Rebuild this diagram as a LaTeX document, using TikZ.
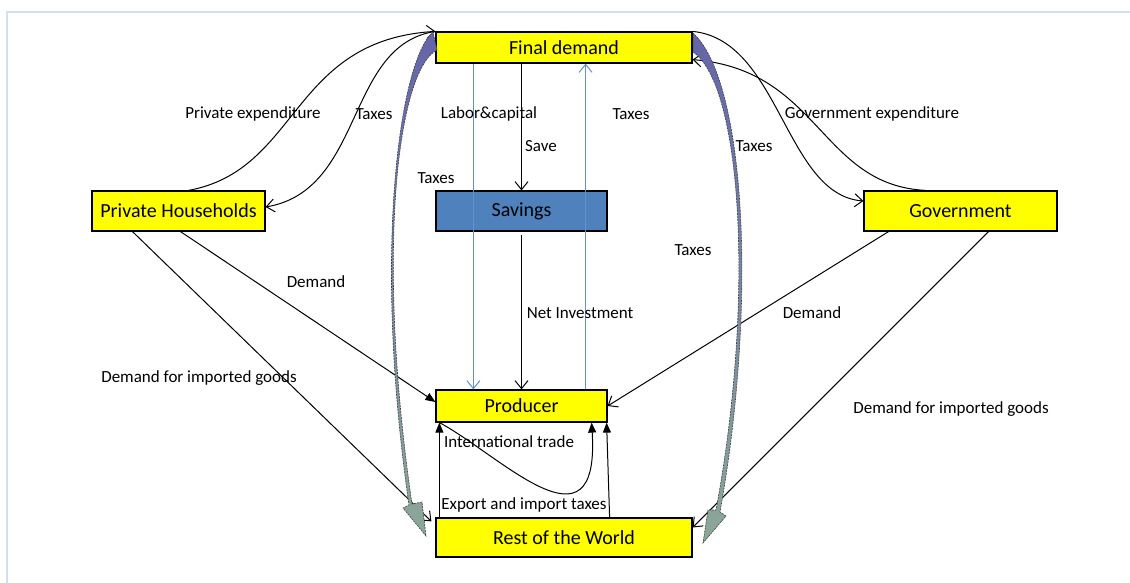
\documentclass[tikz,border=0pt]{standalone}
\usepackage{fontspec}
\setmainfont{Carlito}
\usetikzlibrary{arrows.meta}
\definecolor{boxyellow}{RGB}{255,255,0}
\definecolor{savblue}{RGB}{79,129,189}
\definecolor{flowblue}{RGB}{100,145,205}
\definecolor{fattop}{RGB}{100,100,170}
\definecolor{fatmid}{RGB}{175,185,200}
\definecolor{fatbot}{RGB}{140,168,152}
\definecolor{framegray}{RGB}{214,222,236}

\begin{document}
\begin{tikzpicture}[x=1pt,y=-1pt,
 box/.style={draw=black,line width=1.2pt,fill=boxyellow,inner sep=0pt,font=\fontsize{20}{22}\selectfont},
 lbl/.style={inner sep=0pt,font=\fontsize{17}{19}\selectfont},
 flow/.style={line width=1pt,-{Straight Barb[length=8pt,width=13pt]}},
 bflow/.style={flow,draw=flowblue},
 tflow/.style={line width=1pt,-{Triangle[length=10pt,width=8pt]}},
 fat/.style={draw=black!75,line width=0.6pt,dash pattern=on 2pt off 1pt,top color=fattop,middle color=fatmid,bottom color=fatbot}]
\useasboundingbox (0,0) rectangle (1130,583);
\draw[framegray,line width=1.2pt] (7,583) -- (7,12) -- (1130,12);

\node[box,minimum width=256pt,minimum height=31pt] (fd) at (564,47.5) {Final demand};
\node[box,fill=savblue,minimum width=171pt,minimum height=40pt] (sav) at (521.5,211) {Savings};
\node[box,minimum width=173pt,minimum height=40pt] (ph) at (178.5,211) {Private Households};
\node[box,minimum width=193pt,minimum height=40pt] (gov) at (960.5,211) {Government};
\node[box,minimum width=171pt,minimum height=32pt] (prod) at (521.5,406) {Producer};
\node[box,minimum width=256pt,minimum height=39pt] (rw) at (564,537.5) {Rest of the World};

\draw[flow] ([xshift=10pt]ph.north) .. controls (300,170) and (290,40) .. (fd.north west);
\draw[flow] (fd.north west) .. controls (345,45) and (365,190) .. ([yshift=4pt]ph.east);
\draw[flow] ([xshift=-35pt]gov.north) .. controls (820,185) and (820,70) .. ([yshift=4pt]fd.south east);
\draw[flow] (fd.north east) .. controls (780,40) and (785,195) .. ([yshift=10pt]gov.west);
\draw[bflow] ([xshift=38pt]fd.south west) -- ([xshift=38pt]prod.north west);
\draw[flow] (sav.north |- fd.south) -- (sav.north);
\draw[bflow] ([xshift=-22pt]prod.north east) -- ([xshift=-22pt]prod.north east |- fd.south);
\draw[flow,shorten <=3pt] (sav.south) -- (prod.north);
\draw[tflow] ([xshift=2pt]ph.south) -- ([yshift=4pt]prod.west);
\draw[flow] ([xshift=-46pt]ph.south) -- ([xshift=-4pt,yshift=-4pt]rw.north west);
\draw[flow] ([xshift=-72pt]gov.south) -- (prod.east);
\draw[flow] ([xshift=28pt]gov.south) -- ([yshift=10pt]rw.east);
\draw[tflow,{Triangle[length=10pt,width=8pt]}-] ([xshift=4pt]prod.south west) -- ([xshift=4pt]rw.north west);
\draw[tflow] ([xshift=4pt]prod.south west) .. controls (500,455) and (600,560) .. ([xshift=-16pt]prod.south east);
\draw[tflow] ([xshift=2pt]prod.south east |- rw.north) -- ([xshift=-1pt]prod.south east);

\shade[fat] (433,32) .. controls (400,60) and (372,250) .. (409,505) -- (403,508) -- (426,536) -- (422,502) -- (412,504) .. controls (375,250) and (398,70) .. (437,50) -- cycle;
\shade[fat] (693,33) .. controls (745,80) and (758,300) .. (720,512) -- (726,516) -- (703,543) -- (708,510) -- (716,510) .. controls (755,300) and (742,85) .. (693,52) -- cycle;

\node[lbl] (lprivexp) at (253,114) {Private expenditure};
\node[lbl] (ltaxph) at (374,114) {Taxes};
\node[lbl] (llabor) at (489,114) {Labor\&capital};
\node[lbl] (ltaxup) at (631,114) {Taxes};
\node[lbl] (lsave) at (541,146) {Save};
\node[lbl] (ltaxsav) at (436,178) {Taxes};
\node[lbl] (lgovexp) at (872,114) {Government expenditure};
\node[lbl] (ltaxgov) at (754,146) {Taxes};
\node[lbl] (ltaxfat) at (693,250) {Taxes};
\node[lbl] (ldemph) at (316,282) {Demand};
\node[lbl] (lnetinv) at (580,313) {Net Investment};
\node[lbl] (ldemgov) at (812,313) {Demand};
\node[lbl] (limpph) at (199,378) {Demand for imported goods};
\node[lbl] (limpgov) at (951,409) {Demand for imported goods};
\node[lbl] (ltrade) at (509,442) {International trade};
\node[lbl] (lexport) at (524,505) {Export and import taxes};
\end{tikzpicture}
\end{document}
